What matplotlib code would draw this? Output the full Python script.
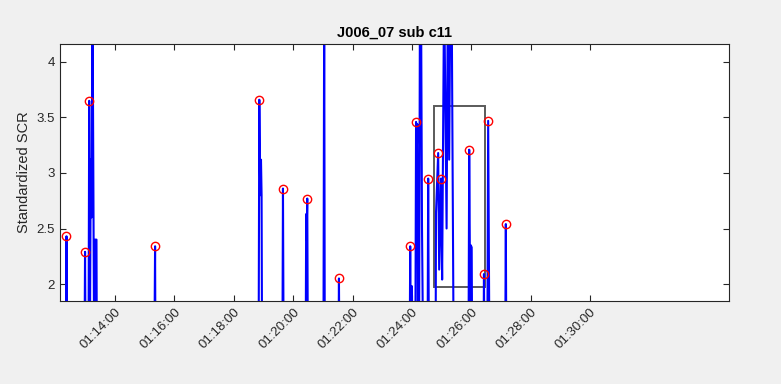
import matplotlib.pyplot as plt
from matplotlib.patches import Rectangle
from matplotlib.ticker import FuncFormatter

plt.rcParams['font.family'] = ['Liberation Sans', 'DejaVu Sans']

# time in seconds after 01:00:00, standardized SCR value
scr_t = [740, 742, 744,
         778, 779.5, 781,
         786.3, 787.9, 789.5, 791, 792.5, 794.6, 796.6, 798.2, 799.8, 802.6, 803.6,
         919, 921, 922,
         1130, 1131.6, 1133.4, 1135, 1136.2, 1137.4,
         1178, 1179.4, 1181,
         1225, 1226.3, 1227, 1228.5, 1230,
         1261, 1262.7, 1264,
         1291, 1292.5, 1294,
         1435, 1436.5, 1438, 1440, 1441,
         1446.6, 1448.3, 1449.7, 1451, 1452.3,
         1454.2, 1456.2, 1458.3, 1460.3, 1463.3,
         1471.3, 1472.8, 1474.6,
         1487.6, 1488.6, 1493, 1495, 1498.6, 1501, 1505, 1510, 1512.6, 1515.2,
         1517.7, 1520.1, 1524.7,
         1554, 1555.7, 1557.7, 1558.7, 1560.7, 1562,
         1584, 1585.5, 1587,
         1592, 1594, 1597,
         1628, 1629.7, 1631]
scr_v = [1.0, 2.43, 1.0,
         1.0, 2.29, 1.0,
         1.0, 3.65, 1.6, 3.12, 2.6, 4.6, 2.64, 1.0, 2.4, 2.4, 1.0,
         1.0, 2.34, 1.0,
         1.0, 3.66, 2.8, 3.12, 2.8, 1.0,
         1.0, 2.86, 1.0,
         1.0, 2.63, 2.4, 2.77, 1.0,
         1.0, 4.6, 1.0,
         1.0, 2.05, 1.0,
         1.0, 2.34, 1.0, 1.98, 1.0,
         1.0, 3.46, 3.16, 3.44, 1.0,
         1.0, 4.7, 4.7, 2.52, 1.0,
         1.0, 2.95, 1.0,
         1.0, 2.64, 3.18, 2.13, 2.95, 2.04, 4.7, 2.5, 4.7, 3.12,
         4.7, 4.7, 1.0,
         1.0, 3.21, 1.8, 2.35, 2.33, 1.0,
         1.0, 2.09, 1.0,
         1.0, 3.47, 1.0,
         1.0, 2.54, 1.0]

peak_t = [742, 779.5, 787.9, 921, 1131.6, 1179.4, 1228.5, 1292.5, 1436.5,
          1448.3, 1472.8, 1493, 1498.6, 1555.7, 1585.5, 1594, 1629.7]
peak_v = [2.43, 2.29, 3.65, 2.34, 3.66, 2.86, 2.77, 2.05, 2.34,
          3.46, 2.95, 3.18, 2.95, 3.21, 2.09, 3.47, 2.54]

# selected window
box_t = [1484.5, 1587.6]
box_v = [1.97, 3.60]

tick_t = [840, 960, 1080, 1200, 1320, 1440, 1560, 1680, 1800]


def hms(s, pos=None):
    s = int(round(s)) + 3600
    return '%02d:%02d:%02d' % (s // 3600, (s % 3600) // 60, s % 60)


fig = plt.figure(figsize=(7.81, 3.84), dpi=100, facecolor='#f0f0f0')
ax = fig.add_axes([60 / 781, 83 / 384, 669 / 781, 257 / 384])

ax.plot(scr_t, scr_v, color='#0000ff', lw=1.5)
ax.plot(peak_t, peak_v, 'o', mfc='none', mec='#ff0000', ms=6, mew=1)
ax.add_patch(Rectangle((box_t[0], box_v[0]), box_t[1] - box_t[0],
                       box_v[1] - box_v[0], fill=False, ec='#5a5a5a', lw=1.4))

ax.set_xlim(728.9, 2080.6)
ax.set_ylim(1.847, 4.162)
ax.set_xticks(tick_t)
ax.xaxis.set_major_formatter(FuncFormatter(hms))
ax.set_yticks([2, 2.5, 3, 3.5, 4])
ax.set_yticklabels(['2', '2.5', '3', '3.5', '4'])

ax.tick_params(direction='in', top=True, right=True, length=4, width=0.8,
               colors='#262626', labelsize=9.5)
plt.setp(ax.get_xticklabels(), rotation=45, ha='right', rotation_mode='anchor')
for sp in ax.spines.values():
    sp.set_color('#262626')
    sp.set_linewidth(0.8)

ax.set_ylabel('Standardized SCR', fontsize=10.5, color='#262626')
ax.set_title('J006_07 sub c11', fontsize=10.5, fontweight='bold', pad=5)

fig.savefig('out.png', dpi=100, facecolor=fig.get_facecolor())
